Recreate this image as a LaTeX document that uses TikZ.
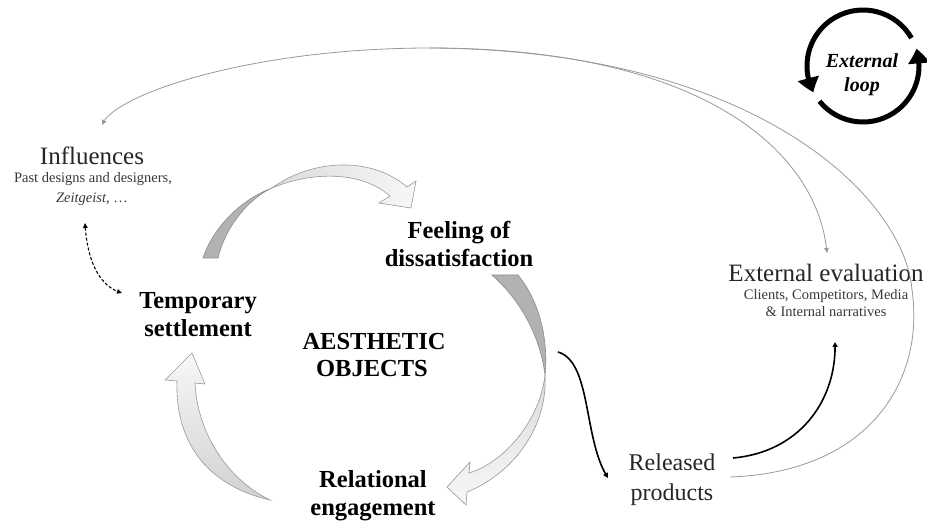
\documentclass[tikz,border=0pt]{standalone}
\usepackage{fontspec}
\setmainfont{Liberation Serif}
\usetikzlibrary{arrows.meta,bending}
\begin{document}
\begin{tikzpicture}[x=1pt,y=-1pt,
  lbl/.style={font=\fontsize{24.5}{28}\selectfont\bfseries, anchor=base, inner sep=0pt},
  big/.style={font=\fontsize{25}{28}\selectfont, anchor=base, inner sep=0pt, text=black!85},
  small/.style={font=\fontsize{14.5}{17}\selectfont, anchor=base, inner sep=0pt, text=black!78},
  reltxt/.style={font=\fontsize{24}{28}\selectfont, anchor=base, inner sep=0pt, text=black!85},
  looptxt/.style={font=\fontsize{20}{24}\selectfont\bfseries\itshape, anchor=base, inner sep=0pt},
  darkband/.style={fill=black!30, draw=black!45, line width=0.6pt},
  lightband/.style={draw=black!40, line width=0.6pt},
  grayline/.style={draw=black!35, line width=0.8pt, -{Triangle[width=4.5pt,length=5pt]}, black!40},
  blkline/.style={draw=black, line width=1.6pt, -{Triangle[width=5pt,length=5pt]}},
  dashline/.style={draw=black, line width=1.1pt, dash pattern=on 3pt off 2pt, {Triangle[width=4.5pt,length=5pt]}-{Triangle[width=4.5pt,length=5pt]}},
  loopline/.style={draw=black, line width=5pt, -{Triangle[width=21pt,length=15pt,bend]}}
]
\useasboundingbox (0,0) rectangle (927,521);
\fill[white] (0,0) rectangle (927,521);

% ---- text nodes ----
\node[big] (infl1) at (92,165) {Influences};
\node[small] (infl2) at (93,183) {Past designs and designers,};
\node[small] (infl3) at (92,203) {\textit{Zeitgeist}, …};
\node[lbl] (temp1) at (198,309) {Temporary};
\node[lbl] (temp2) at (198,337) {settlement};
\node[lbl] (feel1) at (459,239) {Feeling of};
\node[lbl] (feel2) at (459,267) {dissatisfaction};
\node[lbl] (aes1) at (374,350) {AESTHETIC};
\node[lbl] (aes2) at (372,377) {OBJECTS};
\node[lbl] (relat1) at (373,487) {Relational};
\node[lbl] (relat2) at (373,515) {engagement};
\node[reltxt] (rel1) at (672,471) {Released};
\node[reltxt] (rel2) at (672,500) {products};
\node[big] (ext1) at (826,282) {External evaluation};
\node[small] (ext2) at (826,300) {Clients, Competitors, Media};
\node[small] (ext3) at (826,317) {\& Internal narratives};
\node[looptxt] (loop1) at (862,68) {External};
\node[looptxt] (loop2) at (862,92) {loop};

% ---- external loop symbol ----
\coordinate (lc) at (863,66);
\draw[loopline] (lc) ++(-30:56) arc[start angle=-30, end angle=-208, radius=56];
\draw[loopline] (lc) ++(-219:56) arc[start angle=-219, end angle=-378, radius=56];

% ---- connector anchor points ----
\coordinate (relout) at (730,477);
\coordinate (top) at (430,48);
\coordinate (inflin) at (102,125);
\coordinate (extin) at (827,253);
\coordinate (relup) at (733,458);
\coordinate (extbot) at (835,342);
\coordinate (dissout) at (558,352);
\coordinate (relin) at (608,478);
\coordinate (infldash) at (85,223);
\coordinate (tempdash) at (122,293);

% ---- thin gray feedback lines ----
\draw[grayline] (relout) .. controls (870,472) and (925,380) .. (912,290)
   .. controls (905,200) and (760,50) .. (top)
   .. controls (250,48) and (112,95) .. (inflin);
\draw[grayline] (top) .. controls (700,48) and (818,150) .. (extin);

% ---- black connectors ----
\draw[blkline] (relup) .. controls (800,452) and (837,400) .. (extbot);
\draw[blkline] (dissout) .. controls (592,362) and (583,440) .. (relin);
\draw[dashline] (infldash) .. controls (87,262) and (100,287) .. (tempdash);

% ---- block arrow: settlement -> dissatisfaction ----
\draw[darkband] (203,258) .. controls (213,228) and (240,200) .. (272,188)
   .. controls (250,198) and (226,225) .. (218,258) -- cycle;
\shadedraw[lightband, left color=black!14, right color=black!3]
   (272,188) .. controls (310,160) and (370,155) .. (407,187)
   -- (416,181) -- (411,208) -- (379,203) -- (390,196)
   .. controls (360,170) and (310,172) .. (272,188) -- cycle;

% ---- block arrow: dissatisfaction -> engagement ----
\draw[darkband] (492,275) .. controls (520,300) and (540,335) .. (545,375)
   .. controls (549,335) and (537,298) .. (518,275) -- cycle;
\shadedraw[lightband, top color=black!14, bottom color=black!3]
   (545,375) .. controls (540,420) and (505,462) .. (469,473)
   -- (470,462) -- (447,487) -- (466,505) -- (467,492)
   .. controls (510,475) and (548,430) .. (545,375) -- cycle;

% ---- block arrow: engagement -> settlement ----
\shadedraw[lightband, top color=black!3, bottom color=black!18]
   (270,500) .. controls (205,485) and (175,440) .. (177,381)
   -- (165,380) -- (192,353) -- (205,384) -- (195,383)
   .. controls (197,430) and (225,478) .. (270,500) -- cycle;
\end{tikzpicture}
\end{document}
